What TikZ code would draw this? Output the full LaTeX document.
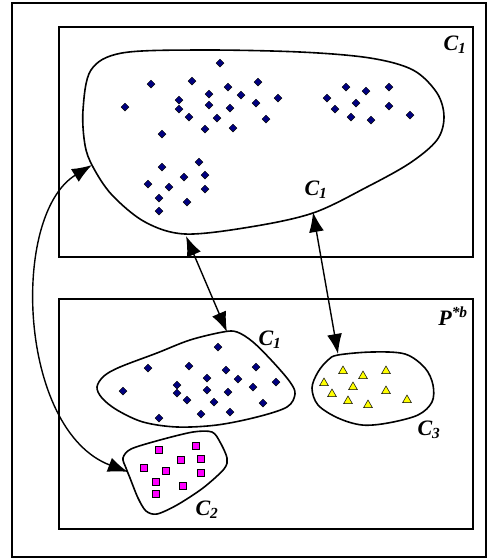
\documentclass[tikz,border=0pt]{standalone}
\usepackage{fontspec}
\setmainfont{Liberation Serif}
\usetikzlibrary{arrows.meta,shapes.geometric}
\definecolor{navy}{RGB}{0,0,128}
\definecolor{mag}{RGB}{255,0,255}
\definecolor{yel}{RGB}{255,255,0}
\tikzset{tipx/.tip={Latex[length=20pt,width=15pt]}}
\begin{document}
\begin{tikzpicture}[x=1pt,y=-1pt,
  frame/.style={draw=black,line width=1.4pt},
  blob/.style={draw=black,line width=1.6pt},
  dia/.style={diamond,draw=black,fill=navy,line width=0.5pt,minimum size=8pt,inner sep=0pt},
  tri/.style={regular polygon,regular polygon sides=3,draw=black,fill=yel,line width=0.5pt,minimum size=10pt,inner sep=0pt},
  sq/.style={rectangle,draw=black,fill=mag,line width=0.5pt,minimum size=7pt,inner sep=0pt},
  lab/.style={font=\fontsize{22}{24}\selectfont\bfseries\itshape,inner sep=0pt},
  link/.style={line width=1.4pt,tipx-tipx}]
\useasboundingbox (0,0) rectangle (487,558);
\draw[frame] (12,3) rectangle (486,557);
\draw[frame] (59,27) rectangle (473,257);
\draw[frame] (59,299) rectangle (473,529);
% big blob
\draw[blob] plot[smooth cycle,tension=0.55] coordinates {(83,110) (91,70) (122,53) (200,50) (300,52) (370,58) (413,70) (437,93) (444,117) (437,140) (410,163) (367,187) (313,213) (250,227) (185,234) (145,222) (112,195) (93,167) (85,145)};
% lower C1
\draw[blob] plot[smooth cycle,tension=0.55] coordinates {(97,387) (104,376) (120,367) (157,353) (190,340) (223,332) (237,332) (253,342) (273,362) (290,382) (295,394) (287,407) (257,417) (217,425) (177,427) (143,422) (117,410) (102,398)};
% C3
\draw[blob] plot[smooth cycle,tension=0.55] coordinates {(338,355) (372,352) (405,354) (425,368) (433,385) (432,402) (418,415) (388,423) (362,425) (338,418) (318,405) (312,388) (318,372) (328,360)};
% C2
\draw[blob] plot[smooth cycle,tension=0.5] coordinates {(123,458) (131,449) (160,440) (193,432) (212,432) (220,442) (227,458) (224,469) (203,488) (177,505) (157,514) (146,511) (138,498) (130,478) (126,468)};
% diamonds big blob
\foreach \p [count=\i] in {(220,63),(151,84),(192,81),(228,87),(258,82),(209,94),(241,95),(179,100),(278,98),(256,103),(125,107),(179,109),(209,105),(230,108),(189,117),(217,118),(266,119),(205,129),(233,128),(162,134),(346,87),(366,91),(389,87),(327,98),(356,103),(389,106),(335,109),(351,117),(371,120),(410,115),(162,167),(199,162),(184,177),(205,175),(148,184),(169,187),(205,189),(159,198),(187,202),(159,211)}
  \node[dia] (a\i) at \p {};
% diamonds lower C1
\foreach \p [count=\i] in {(218,347),(148,368),(189,366),(226,370),(256,367),(207,378),(238,379),(177,385),(276,382),(253,387),(123,391),(177,393),(207,390),(228,392),(187,400),(214,402),(263,403),(201,414),(230,412),(159,418)}
  \node[dia] (b\i) at \p {};
% triangles
\foreach \p [count=\i] in {(343,371),(363,376),(386,371),(324,383),(353,387),(386,391),(332,394),(348,401),(368,405),(407,400)}
  \node[tri] (t\i) at \p {};
% squares
\foreach \p [count=\i] in {(159,450),(196,446),(181,460),(201,459),(144,468),(166,471),(201,473),(156,482),(183,486),(156,494)}
  \node[sq] (s\i) at \p {};
% labels
\node[lab] (lc1top) at (455,45) {C\textsubscript{1}};
\node[lab] (lc1in) at (316,190) {C\textsubscript{1}};
\node[lab] (lc1low) at (270,340) {C\textsubscript{1}};
\node[lab] (lc3) at (429,430) {C\textsubscript{3}};
\node[lab] (lc2) at (207,510) {C\textsubscript{2}};
\node[lab] (lp) at (453,316) {P\textsuperscript{*b}};
% arrow endpoints
\coordinate (e1a) at (186,236);
\coordinate (e1b) at (227,332);
\coordinate (e2a) at (313,212);
\coordinate (e2b) at (338,354);
\coordinate (e3a) at (92,165);
\coordinate (e3b) at (128,472);
\draw[link] (e1a) -- (e1b);
\draw[link] (e2a) -- (e2b);
\draw[link] (e3a) .. controls (10,215) and (18,430) .. (e3b);
\end{tikzpicture}
\end{document}
